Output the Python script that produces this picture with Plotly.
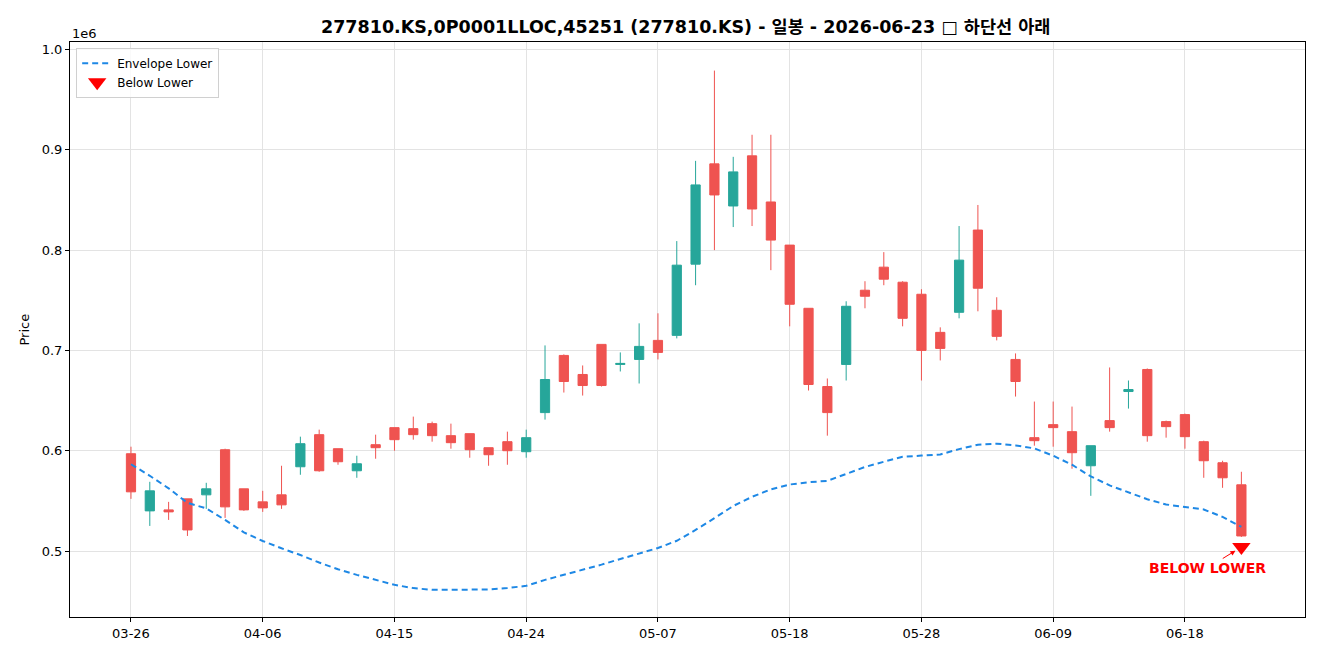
import plotly.graph_objects as go

dates = [
    "2026-03-26", "2026-03-27", "2026-03-30", "2026-03-31",
    "2026-04-01", "2026-04-02", "2026-04-03", "2026-04-06", "2026-04-07", "2026-04-08",
    "2026-04-09", "2026-04-10", "2026-04-13", "2026-04-14", "2026-04-15", "2026-04-16",
    "2026-04-17", "2026-04-20", "2026-04-21", "2026-04-22", "2026-04-23", "2026-04-24",
    "2026-04-27", "2026-04-28", "2026-04-29", "2026-04-30",
    "2026-05-04", "2026-05-06", "2026-05-07", "2026-05-08", "2026-05-11", "2026-05-12",
    "2026-05-13", "2026-05-14", "2026-05-15", "2026-05-18", "2026-05-19", "2026-05-20",
    "2026-05-21", "2026-05-22", "2026-05-26", "2026-05-27", "2026-05-28", "2026-05-29",
    "2026-06-01", "2026-06-02", "2026-06-04", "2026-06-05", "2026-06-08", "2026-06-09",
    "2026-06-10", "2026-06-11", "2026-06-12", "2026-06-15", "2026-06-16", "2026-06-17",
    "2026-06-18", "2026-06-19", "2026-06-22", "2026-06-23",
]

open_ = [597, 540, 541, 552, 556, 601, 562, 549, 556, 584,
         616, 602, 580, 606, 623, 622, 627, 615, 617, 603,
         609, 599, 638, 695, 676, 706, 686, 691, 710, 715,
         786, 886, 844, 894, 848, 805, 742, 664, 686, 760,
         783, 768, 756, 718, 738, 820, 740, 691, 613, 626,
         619, 585, 630, 659, 681, 629, 636, 609, 588, 566]
high = [604, 569, 549, 552, 568, 602, 562, 560, 585, 614,
        621, 602, 595, 616, 623, 634, 629, 627, 617, 603,
        619, 621, 705, 696, 685, 706, 698, 727, 737, 809,
        889, 979, 893, 915, 915, 805, 742, 672, 749, 769,
        798, 769, 761, 723, 824, 845, 753, 697, 649, 649,
        644, 605, 683, 670, 682, 630, 637, 610, 590, 579]
low = [552, 525, 531, 515, 542, 533, 540, 539, 542, 576,
       579, 586, 573, 592, 600, 611, 609, 602, 593, 585,
       586, 593, 631, 658, 655, 664, 679, 667, 691, 712,
       765, 800, 823, 824, 780, 724, 660, 615, 670, 742,
       765, 724, 670, 690, 732, 739, 710, 654, 605, 604,
       582, 555, 619, 642, 609, 613, 602, 573, 563, 514]
close = [559, 560, 539, 521, 562, 544, 541, 543, 546, 607,
         580, 589, 587, 603, 611, 616, 615, 608, 601, 596,
         600, 613, 671, 669, 665, 665, 687, 704, 698, 785,
         865, 855, 878, 841, 810, 746, 666, 638, 744, 754,
         771, 732, 700, 702, 790, 762, 714, 669, 610, 623,
         598, 605, 623, 661, 615, 624, 614, 590, 573, 515]

envelope_lower = [586.5, 575.0, 562.5, 548.0, 542.5, 531.0, 518.5, 510.0, 502.7, 496.0,
                  488.5, 481.8, 476.2, 471.2, 466.3, 463.0, 461.3, 461.3, 461.3, 461.7,
                  463.0, 465.3, 471.2, 476.2, 481.5, 486.4, 492.0, 497.3, 503.0, 510.2,
                  521.0, 532.7, 544.9, 554.0, 561.4, 566.3, 568.6, 569.9, 577.2, 583.8,
                  589.0, 594.0, 595.1, 596.3, 601.6, 606.0, 607.0, 605.3, 602.3, 595.0,
                  586.0, 574.3, 565.4, 558.8, 551.6, 546.4, 544.0, 541.4, 534.0, 524.0]

below_lower_idx = [59]
below_lower_price = [504]

ytick_vals = [0.5, 0.6, 0.7, 0.8, 0.9, 1.0]
ytick_text = ["0.5", "0.6", "0.7", "0.8", "0.9", "1.0"]
xtick_idx = [0, 7, 14, 21, 28, 35, 42, 49, 56]

title_text = "277810.KS,0P0001LLOC,45251 (277810.KS) - 일봉 - 2026-06-23 □ 하단선 아래"

K = 1000
x = list(range(len(dates)))
UP = "#26a69a"
DOWN = "#ef5350"
FONT = "DejaVu Sans, Noto Sans CJK KR, sans-serif"

fig = go.Figure()
fig.add_trace(go.Candlestick(
    x=x,
    open=[v * K for v in open_], high=[v * K for v in high],
    low=[v * K for v in low], close=[v * K for v in close],
    increasing=dict(line=dict(color=UP, width=1), fillcolor=UP),
    decreasing=dict(line=dict(color=DOWN, width=1), fillcolor=DOWN),
    whiskerwidth=0, showlegend=False, name="OHLC",
))
fig.add_trace(go.Scatter(
    x=x, y=[v * K for v in envelope_lower], mode="lines",
    line=dict(color="#1e88e5", width=2, dash="6px,4px"),
    name="Envelope Lower",
))
fig.add_trace(go.Scatter(
    x=below_lower_idx, y=[v * K for v in below_lower_price], mode="markers",
    marker=dict(symbol="triangle-down", color="#ff0000", size=16, line=dict(width=0)),
    name="Below Lower",
))

fig.add_annotation(
    x=below_lower_idx[0], y=below_lower_price[0] * K, xref="x", yref="y",
    text="<b>BELOW LOWER</b>", showarrow=True, ax=-34, ay=21,
    arrowhead=2, arrowsize=1, arrowwidth=1, arrowcolor="#ff0000", standoff=7,
    font=dict(color="#ff0000", size=14, family=FONT),
)
fig.add_annotation(
    x=0, y=1, xref="paper", yref="paper", xanchor="left", yanchor="bottom",
    text="1e6", showarrow=False, yshift=-1, font=dict(size=13, color="#000", family=FONT),
)
fig.add_annotation(
    x=0, y=0.5, xref="paper", yref="paper", xanchor="center", yanchor="middle",
    text="Price", textangle=-90, showarrow=False, xshift=-46,
    font=dict(size=13, color="#000", family=FONT),
)

grid = "#e3e3e3"
fig.update_layout(
    width=1320, height=660,
    margin=dict(l=70, r=15, t=42, b=43),
    paper_bgcolor="white", plot_bgcolor="white",
    font=dict(family=FONT, size=13, color="#000"),
    title=dict(text="<b>" + title_text + "</b>", x=0.5195, xanchor="center",
               y=0.960, yanchor="middle", font=dict(size=17.5, family=FONT)),
    showlegend=True,
    legend=dict(x=0.005, y=0.99, xanchor="left", yanchor="top",
                bgcolor="rgba(255,255,255,0.8)", bordercolor="#d0d0d0", borderwidth=1,
                font=dict(size=12, family=FONT), tracegroupgap=0),
    xaxis=dict(
        range=[-3.24, 62.38], rangeslider=dict(visible=False),
        tickmode="array", tickvals=xtick_idx, ticktext=[dates[i][5:] for i in xtick_idx],
        showgrid=True, gridcolor=grid, gridwidth=1,
        showline=True, linecolor="#000", linewidth=1, mirror=True,
        ticks="outside", ticklen=4, tickcolor="#000", zeroline=False,
    ),
    yaxis=dict(
        range=[434200, 1007500],
        tickmode="array", tickvals=[v * 1e6 for v in ytick_vals], ticktext=ytick_text,
        showgrid=True, gridcolor=grid, gridwidth=1,
        showline=True, linecolor="#000", linewidth=1, mirror=True,
        ticks="outside", ticklen=4, tickcolor="#000", zeroline=False,
    ),
)

fig.write_html("out.html")
